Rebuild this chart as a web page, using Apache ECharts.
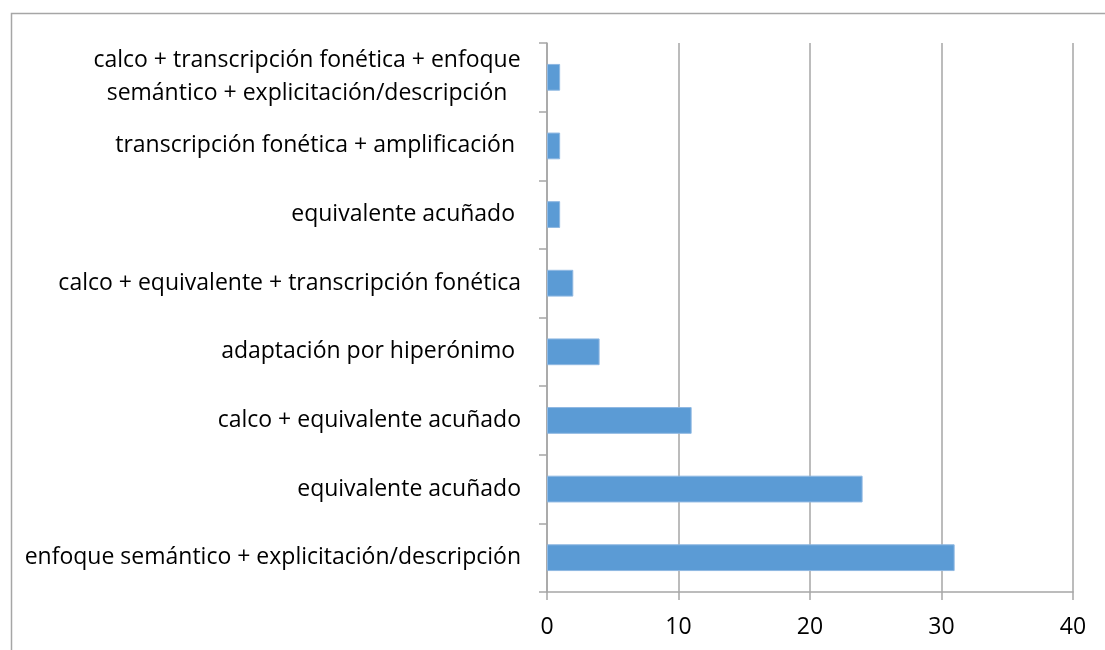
<!DOCTYPE html>
<html>
<head>
<meta charset="utf-8">
<script src="https://cdn.jsdelivr.net/npm/echarts@6/dist/echarts.min.js"></script>
<style>
  html, body { margin: 0; padding: 0; background: #fff; }
  #chart { width: 1105px; height: 650px; }
</style>
</head>
<body>
<div id="chart"></div>
<script>
// categories from bottom to top
var categories = [
    'enfoque semántico + explicitación/descripción',
    'equivalente acuñado',
    'calco + equivalente acuñado',
    'adaptación por hiperónimo ',
    'calco + equivalente + transcripción fonética',
    'equivalente acuñado ',
    'transcripción fonética + amplificación ',
    'calco + transcripción fonética + enfoque\nsemántico + explicitación/descripción'
];
var values = [31, 24, 11, 4, 2, 1, 1, 1];
var xTicks = [0, 10, 20, 30, 40];

var font = 'Open Sans';
var labelSize = 23;

// width of the widest line, so two-line labels can be centred like the original
var ctx = document.createElement('canvas').getContext('2d');
ctx.font = labelSize + 'px "' + font + '"';
function lineWidth(s) { return Math.ceil(ctx.measureText(s).width); }

var chart = echarts.init(document.getElementById('chart'));

chart.setOption({
    animation: false,
    grid: { left: 547, right: 32, top: 43, bottom: 58 },
    graphic: [{
        type: 'rect',
        shape: { x: 11.5, y: 13.5, width: 1110, height: 660 },
        style: { fill: 'none', stroke: '#a6a6a6', lineWidth: 1.5 }
    }],
    xAxis: {
        type: 'value',
        min: xTicks[0],
        max: xTicks[xTicks.length - 1],
        interval: 10,
        axisLine: { show: true, lineStyle: { color: '#a6a6a6', width: 1.5 } },
        axisTick: { show: true, length: 8, lineStyle: { color: '#a6a6a6', width: 1.5 } },
        splitLine: { show: true, lineStyle: { color: '#a6a6a6', width: 1.5 } },
        axisLabel: { color: '#000', fontSize: 23, fontFamily: font, margin: 24 }
    },
    yAxis: {
        type: 'category',
        data: categories,
        axisLine: { show: true, lineStyle: { color: '#a6a6a6', width: 1.5 } },
        axisTick: { show: true, length: 8, lineStyle: { color: '#a6a6a6', width: 1.5 } },
        axisLabel: {
            color: '#000', fontSize: labelSize, fontFamily: font, margin: 26,
            lineHeight: 33, align: 'right',
            formatter: function (v) {
                var lines = v.split('\n');
                if (lines.length < 2) return v;
                var w = Math.max.apply(null, lines.map(lineWidth));
                chart._cw = w;
                return lines.map(function (l) { return '{c|' + l + '}'; }).join('\n');
            },
            rich: {
                c: {
                    fontSize: labelSize, fontFamily: font, color: '#000',
                    lineHeight: 33, align: 'center',
                    width: Math.max.apply(null, categories[7].split('\n').map(lineWidth))
                }
            }
        }
    },
    series: [{
        type: 'bar',
        data: values,
        barWidth: '39%',
        itemStyle: { color: '#5b9bd5', borderColor: '#8fb8e2', borderWidth: 1 }
    }]
});
</script>
</body>
</html>
